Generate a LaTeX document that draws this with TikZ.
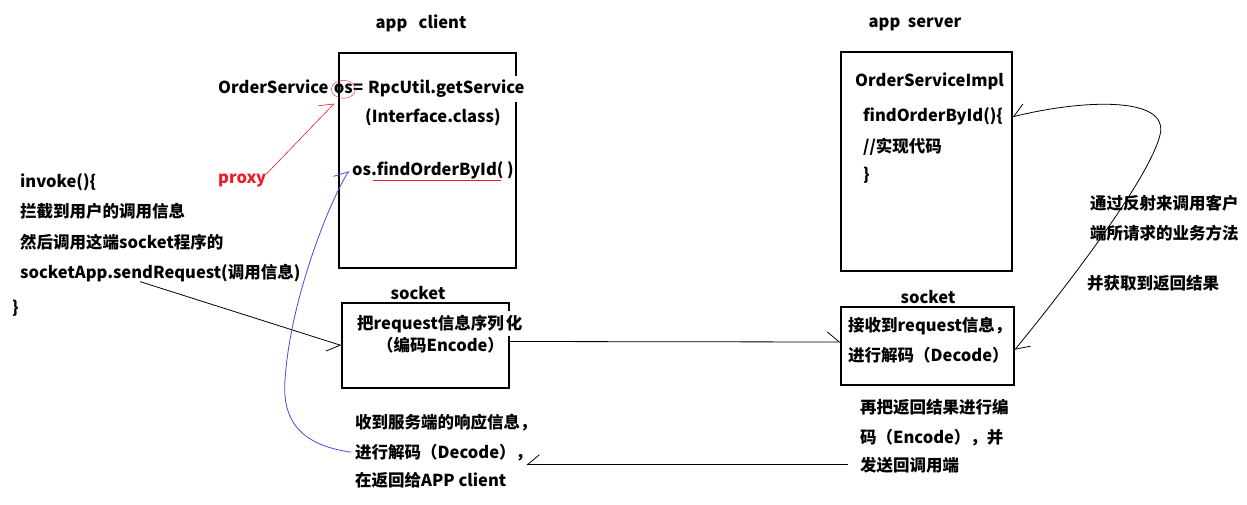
\documentclass[tikz,border=0pt]{standalone}
\usepackage{fontspec}
\setmainfont{Noto Sans CJK SC}
\usetikzlibrary{positioning,arrows.meta}
\definecolor{penred}{RGB}{237,28,36}
\definecolor{penblue}{RGB}{72,72,226}

\begin{document}
\begin{tikzpicture}[x=1pt, y=-1pt,
  font=\fontsize{16.5}{20}\selectfont\bfseries,
  lbl/.style={anchor=base west, inner sep=0pt},
  cover/.style={fill=white, inner ysep=4pt},
  pane/.style={draw, line width=1.2pt, inner sep=0pt},
  wire/.style={line width=0.8pt},
  barb/.style={wire, -{Straight Barb[harpoon, length=12pt, width=20pt]}},
  barbsw/.style={wire, -{Straight Barb[harpoon, swap, length=12pt, width=20pt]}}
]
  \useasboundingbox (0,0) rectangle (1247,505);

  % app client
  \node (clientttl) at (421,23) {app~~~client};
  \node[pane, minimum width=177pt, minimum height=215pt] (client) at (427.5,160.5) {};
  \node[lbl] (osdecl) at (218,94) {OrderService};
  \node[lbl, base right=5pt of osdecl] (osvar) {os};
  \node[lbl, cover, base right=0pt of osvar] (getsvc) {=\hspace{5pt}RpcUtil.getService};
  \node[lbl] (iface) at (365,123) {(Interface.class)};
  \node[lbl] (findcall) at (352,176) {os.findOrderById( )};
  \draw[penred] (osvar.center) ellipse (12pt and 9pt);
  \draw[penred] ([xshift=21pt]findcall.south west) -- ([xshift=-13pt]findcall.south east);
  \node[lbl, text=penred] (proxy) at (218,184) {proxy};
  \draw[barb, penred, line width=0.6pt] (proxy.north east) -- ([xshift=-9pt, yshift=-9pt]osvar.south);

  % invoke
  \node[lbl] (invoke) at (20,188) {invoke()\{};
  \node[lbl] (intercept) at (20,218) {拦截到用户的调用信息};
  \node[lbl] (callsock) at (20,248) {然后调用这端socket程序的};
  \node[lbl] (sendreq) at (20,278) {socketApp.sendRequest(调用信息)};
  \node[lbl] (invokeend) at (12,313) {\}};

  % client socket
  \node (sockLttl) at (418,293) {socket};
  \node[pane, minimum width=167pt, minimum height=85pt] (sockL) at (425.5,345.5) {};
  \node[lbl, cover] (serialize) at (357,329) {把request信息序列\hspace{2pt}化};
  \node[lbl] (encode) at (377,351) {（编码Encode）};
  \node[lbl] (recv1) at (355,428) {收到服务端的响应信息，};
  \node[lbl] (recv2) at (355,458) {进行解码（Decode），};
  \node[lbl] (recv3) at (355,486) {在返回给APP client};

  % app server
  \node (serverttl) at (915,24) {app~~server};
  \node[pane, minimum width=171pt, minimum height=219pt] (server) at (926.5,161.5) {};
  \node[lbl] (impl) at (855,87) {OrderServiceImpl};
  \node[lbl] (findimpl) at (863,122) {findOrderById()\{};
  \node[lbl] (implbody) at (863,153) {//实现代码};
  \node[lbl] (implend) at (863,181) {\}};
  \node[lbl] (reflect1) at (1090,209) {通过反射来调用客户};
  \node[lbl] (reflect2) at (1090,239) {端所请求的业务方法};
  \node[lbl] (result) at (1087,289) {并获取到返回结果};

  % server socket
  \node (sockRttl) at (928,297) {socket};
  \node[pane, minimum width=173pt, minimum height=78pt] (sockR) at (927.5,346) {};
  \node[lbl] (accept) at (848,331) {接收到request信息，};
  \node[lbl] (decode) at (848,361) {进行解码（Decode）};
  \node[lbl] (reply1) at (860,413) {再把返回结果进行编};
  \node[lbl] (reply2) at (860,443) {码（Encode），并};
  \node[lbl] (reply3) at (860,471) {发送回调用端};

  \draw[barbsw] ([xshift=120pt]sendreq.south west) -- (sockL.west);
  \draw[barb] ([yshift=4pt]sockL.east) -- ([yshift=4pt]sockR.west);
  \draw[barbsw] ([xshift=-12pt]reply3.west) -- ([xshift=-6pt]recv2.east |- reply3.west);
  \draw[barb, penblue] ([xshift=-4pt]recv2.west) .. controls (300,445) and (282,420) .. (285,380)
    .. controls (290,300) and (330,200) .. ([xshift=-3pt]findcall.west);
  \draw[wire, {Straight Barb[harpoon, length=12pt, width=20pt]}-{Straight Barb[harpoon, swap, length=12pt, width=20pt]}]
    ([yshift=-4pt]sockR.east) .. controls (1080,270) and (1150,175) .. (1160,135)
    .. controls (1170,95) and (1080,100) .. (server.east |- findimpl.west);
\end{tikzpicture}
\end{document}
